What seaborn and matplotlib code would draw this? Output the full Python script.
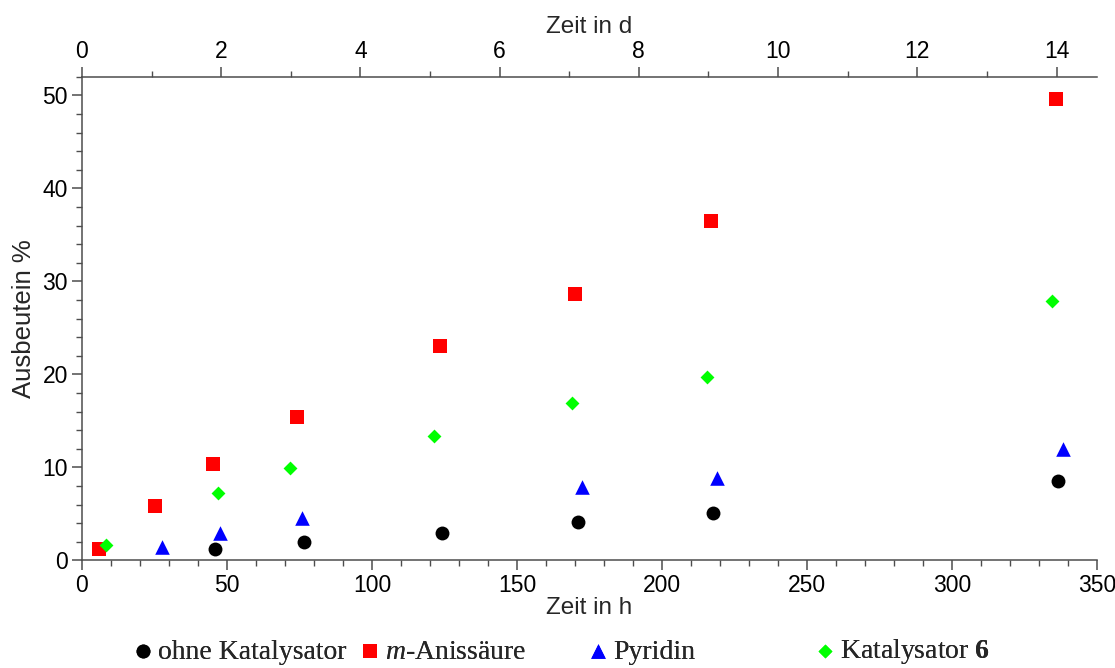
import numpy as np
import pandas as pd
import matplotlib
matplotlib.use("Agg")
import matplotlib.pyplot as plt
import seaborn as sns
from matplotlib.ticker import MultipleLocator, FixedLocator

# --- data (time in h, yield in %) ---
ohne_h = [45.9, 76.6, 124.1, 171.0, 217.6, 336.6]
ohne_y = [1.2, 2.0, 3.0, 4.1, 5.1, 8.5]

anis_h = [5.9, 25.2, 45.2, 74.1, 123.4, 170.0, 216.9, 335.9]
anis_y = [1.2, 5.9, 10.4, 15.4, 23.1, 28.7, 36.5, 49.6]

pyr_h = [27.6, 47.6, 75.9, 172.4, 219.0, 338.3]
pyr_y = [1.45, 2.95, 4.6, 7.9, 8.9, 12.0]

kat_h = [8.3, 46.9, 71.7, 121.4, 169.0, 215.5, 334.5]
kat_y = [1.67, 7.26, 9.95, 13.4, 16.9, 19.7, 27.9]

labels = ["ohne Katalysator", r"$\mathit{m}$-Anissäure", "Pyridin", r"Katalysator $\mathbf{6}$"]
day_ticks = [0, 2, 4, 6, 8, 10, 12, 14]

sns.set_theme(style="ticks")
plt.rcParams['font.family'] = ['Liberation Sans', 'DejaVu Sans']
plt.rcParams['mathtext.fontset'] = 'custom'
plt.rcParams['mathtext.rm'] = 'Liberation Serif'
plt.rcParams['mathtext.it'] = 'Liberation Serif:italic'
plt.rcParams['mathtext.bf'] = 'Liberation Serif:bold'

fig = plt.figure(figsize=(11.15, 6.68), dpi=100)
ax = fig.add_axes([0.0735, 0.161, 0.9105, 0.724])

series = [
    (ohne_h, ohne_y, "black", "o", 100),
    (anis_h, anis_y, "#ff0000", "s", 95),
    (pyr_h, pyr_y, "#0000ff", "^", 110),
    (kat_h, kat_y, "#00ff00", "D", 50),
]
for (xs, ys, col, mk, sz), lab in zip(series, labels):
    sns.scatterplot(x=xs, y=ys, color=col, marker=mk, s=sz, linewidth=0,
                    label=lab, ax=ax, legend=False)

ax.set_xlim(0, 350)
ax.set_ylim(0, 52)
ax.xaxis.set_major_locator(MultipleLocator(50))
ax.xaxis.set_minor_locator(MultipleLocator(10))
ax.yaxis.set_major_locator(MultipleLocator(10))
ax.yaxis.set_minor_locator(MultipleLocator(2))

spine_col = "#4d4d4d"
for side in ["left", "bottom", "top"]:
    ax.spines[side].set_color(spine_col)
    ax.spines[side].set_linewidth(1.1)
ax.spines["right"].set_visible(False)
ax.spines["top"].set_visible(False)

ax.tick_params(which="major", direction="out", length=7, width=1.1, color=spine_col,
               labelsize=16.5, labelcolor="black", pad=3)
ax.tick_params(which="minor", direction="out", length=4, width=1.0, color=spine_col)

ax.set_xlabel("Zeit in h", fontsize=17.5, labelpad=0)
ax.set_ylabel("Ausbeutein %", fontsize=18.5, labelpad=5)

# top axis in days
top = ax.secondary_xaxis("top", functions=(lambda h: h / 24.0, lambda d: d * 24.0))
top.xaxis.set_major_locator(FixedLocator(day_ticks))
top.xaxis.set_minor_locator(FixedLocator([d + 1 for d in day_ticks]))
top.spines["top"].set_color(spine_col)
top.spines["top"].set_linewidth(1.1)
top.tick_params(which="major", direction="out", length=7, width=1.1, color=spine_col,
                labelsize=16.5, labelcolor="black", pad=3)
top.tick_params(which="minor", direction="out", length=4, width=1.0, color=spine_col)
top.set_xlabel("Zeit in d", fontsize=17.5, labelpad=5)

# legend: four fixed-width entries below the plot
handles, labs = ax.get_legend_handles_labels()
leg_x = [0.1208, 0.3244, 0.5289, 0.7324]
for h, l, lx in zip(handles, labs, leg_x):
    lg = fig.legend([h], [l], loc="center left", bbox_to_anchor=(lx, 0.024),
                    frameon=False, borderpad=0, borderaxespad=0, handlelength=0.6,
                    handletextpad=0.25,
                    prop={"family": "Liberation Serif", "size": 20})
    fig.add_artist(lg)

fig.savefig("out.png", dpi=100, facecolor="white")
